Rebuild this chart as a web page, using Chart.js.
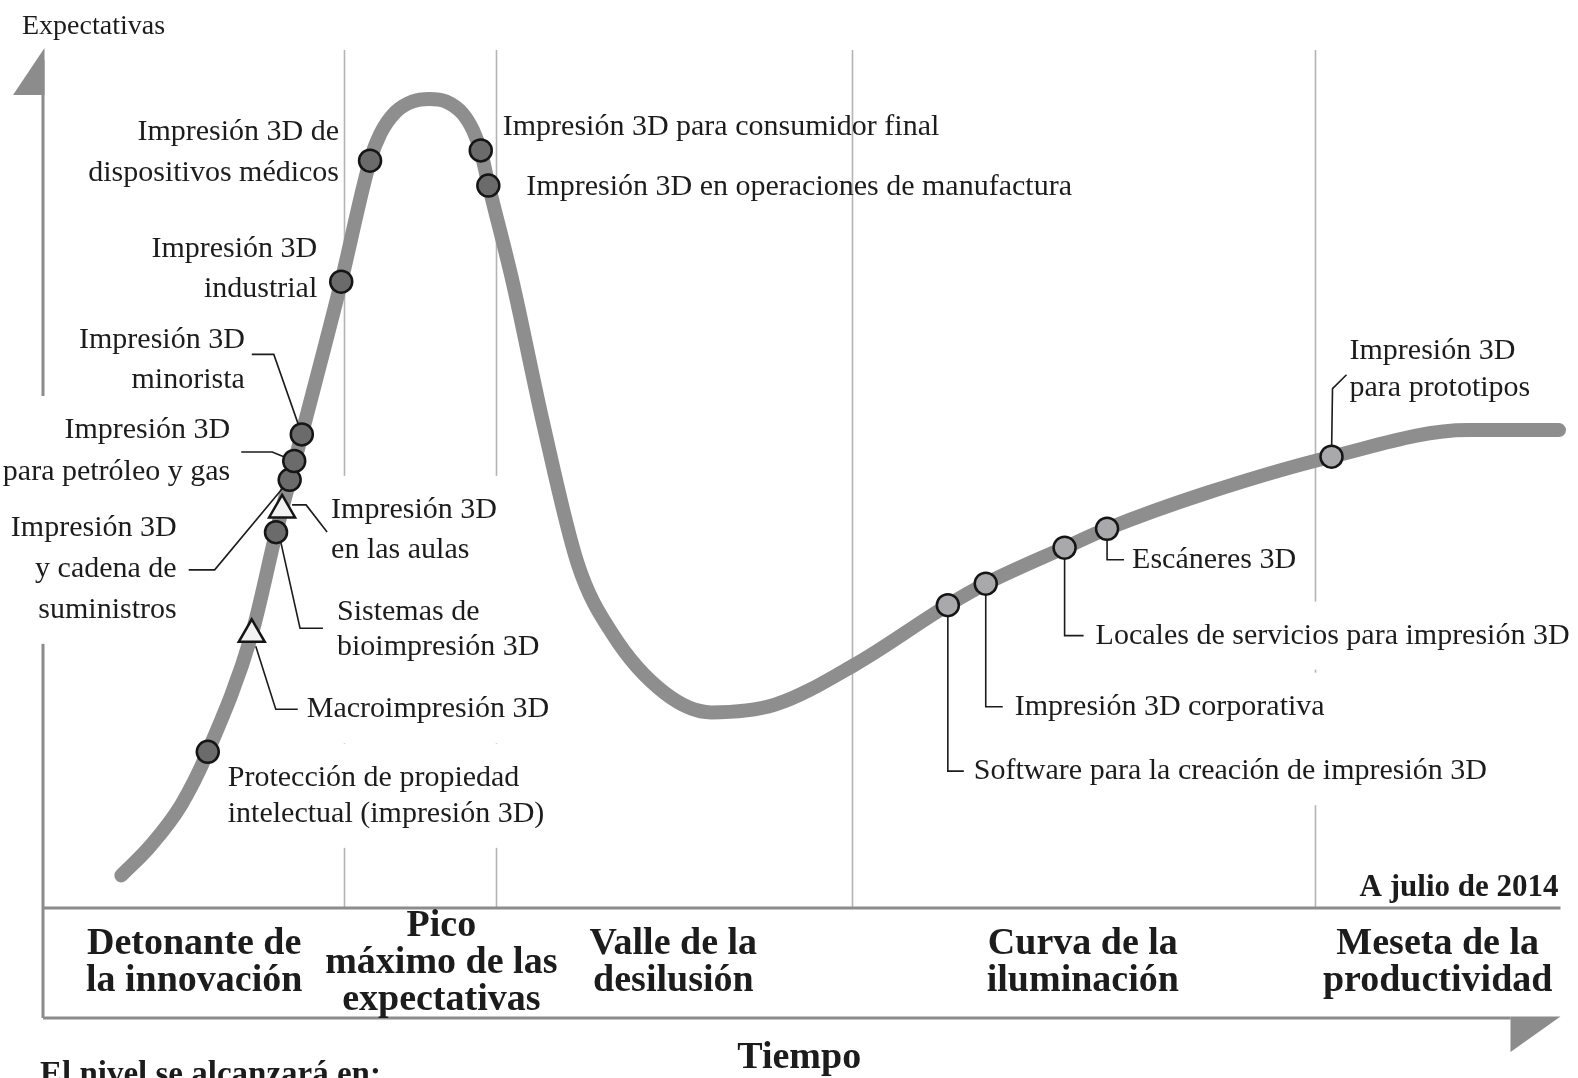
<!DOCTYPE html>
<html>
<head>
<meta charset="utf-8">
<script src="https://cdn.jsdelivr.net/npm/chart.js@4.4.1/dist/chart.umd.min.js"></script>
<style>
  html, body { margin: 0; padding: 0; background: #fff; }
  .wrap { width: 1578px; height: 1078px; position: relative; }
</style>
</head>
<body>
<div class="wrap"><canvas id="hype"></canvas></div>
<script>
// hype curve (time 0-100, expectations 0-100)
const curveX = [5.1, 7.05, 9.04, 10.8, 13.7, 15.3, 17.0, 19.6, 21.5, 22.2, 23.2, 24.3, 25.4, 26.5, 27.6, 28.3, 28.8, 29.3, 30.9, 32.9, 35.2, 37.5, 40.9, 44.0, 48.2, 53.5, 59.6, 62.1, 67.3, 70.1, 76.7, 84.9, 93.9, 99.9]
const curveY = [3.8, 7.3, 12.0, 18.2, 31.9, 43.7, 55.2, 73.0, 87.1, 90.3, 92.8, 94.0, 94.3, 94.0, 92.6, 90.6, 88.2, 84.4, 73.0, 56.6, 40.1, 31.9, 25.1, 22.8, 23.7, 28.4, 35.3, 37.8, 42.0, 44.2, 48.4, 52.6, 55.7, 55.7]

// technologies on the curve
const techNames = [
    "Protección de propiedad\nintelectual (impresión 3D)",
    "Macroimpresión 3D",
    "Sistemas de\nbioimpresión 3D",
    "Impresión 3D\nen las aulas",
    "Impresión 3D\ny cadena de\nsuministros",
    "Impresión 3D\npara petróleo y gas",
    "Impresión 3D\nminorista",
    "Impresión 3D\nindustrial",
    "Impresión 3D de\ndispositivos médicos",
    "Impresión 3D para consumidor final",
    "Impresión 3D en operaciones de manufactura",
    "Software para la creación de impresión 3D",
    "Impresión 3D corporativa",
    "Locales de servicios para impresión 3D",
    "Escáneres 3D",
    "Impresión 3D\npara prototipos"
]
const techX = [10.8, 13.7, 15.3, 15.7, 16.2, 16.5, 17.0, 19.6, 21.5, 28.8, 29.3, 59.6, 62.1, 67.3, 70.1, 84.9]
const techY = [18.2, 31.9, 43.8, 46.4, 49.9, 52.1, 55.2, 73.0, 87.1, 88.3, 84.2, 35.3, 37.8, 42.0, 44.2, 52.6]
// marker kind: dark circle, light circle, triangle
const techGroup = ["dark", "tri", "dark", "tri", "dark", "dark", "dark", "dark", "dark", "dark", "dark",
    "light", "light", "light", "light", "light"]

const phaseNames = [
    "Detonante de\nla innovación",
    "Pico\nmáximo de las\nexpectativas",
    "Valle de la\ndesilusión",
    "Curva de la\niluminación",
    "Meseta de la\nproductividad"
]
const phaseBounds = [19.8, 29.8, 53.3, 83.8]
const phaseCenters = [9.9, 26.2, 41.5, 68.5, 91.9]

// label placement in px, relative to the marker
const labelPos = [
    {dx: 20, dy: 26, gap: 36, align: "left"},
    {dx: 55, dy: 75, gap: 0, align: "left", leader: [[4, 12], [24, 75], [46, 75]]},
    {dx: 61, dy: 80, gap: 35, align: "left", leader: [[5, 11], [24, 96], [47, 96]]},
    {dx: 49, dy: 0, gap: 40, align: "left", leader: [[10, -5], [24, -5], [45, 22]]},
    {dx: -113, dy: 48, gap: 41, align: "right", leader: [[0, 0], [-75, 90], [-101, 90]]},
    {dx: -64, dy: -31, gap: 42, align: "right", leader: [[-53, -9], [-22, -9], [0, 0]]},
    {dx: -57, dy: -94, gap: 40, align: "right", leader: [[-50, -80], [-28, -80], [0, 0]]},
    {dx: -24, dy: -33, gap: 40, align: "right"},
    {dx: -31, dy: -29, gap: 41, align: "right"},
    {dx: 22, dy: -23, gap: 0, align: "left", nobg: true},
    {dx: 38, dy: 2, gap: 0, align: "left", nobg: true},
    {dx: 26, dy: 166, gap: 0, align: "left", leader: [[0, 0], [0, 166], [16, 166]]},
    {dx: 29, dy: 123, gap: 0, align: "left", leader: [[0, 0], [0, 123], [17, 123]]},
    {dx: 31, dy: 88, gap: 0, align: "left", leader: [[0, 0], [0, 88], [19, 88]]},
    {dx: 25, dy: 31, gap: 0, align: "left", leader: [[0, 0], [0, 31], [17, 31]]},
    {dx: 18, dy: -106, gap: 37, align: "left", leader: [[0, 0], [1, -68], [15, -82]]}
]

const SERIF = '"Liberation Serif", "Times New Roman", serif'
const INK = "#1c1c1c"
const AXIS = "#8c8c8c"

const pick = (g) => techX.map((x, i) => ({x: x, y: techY[i], g: techGroup[i]})).filter(p => p.g === g)

const markerPx = (chart, i) => ({
    x: chart.scales.x.getPixelForValue(techX[i]),
    y: chart.scales.y.getPixelForValue(techY[i])
})

const hypeDecor = {
    id: "hypeDecor",
    beforeDraw(chart) {
        const ctx = chart.ctx
        ctx.save()
        ctx.fillStyle = "#fff"
        ctx.fillRect(0, 0, chart.width, chart.height)
        ctx.restore()
    },
    beforeDatasetsDraw(chart) {
        const ctx = chart.ctx
        const {left, right, top, bottom} = chart.chartArea
        const xs = chart.scales.x
        const bandBottom = bottom + 110
        ctx.save()

        // phase dividers
        ctx.strokeStyle = "#b4b4b4"
        ctx.lineWidth = 1.6
        phaseBounds.forEach(b => {
            const px = Math.round(xs.getPixelForValue(b)) + 0.5
            ctx.beginPath()
            ctx.moveTo(px, top)
            ctx.lineTo(px, bottom)
            ctx.stroke()
        })

        // axes + band
        ctx.strokeStyle = AXIS
        ctx.fillStyle = AXIS
        ctx.lineWidth = 3
        ctx.beginPath()
        ctx.moveTo(left - 1, top + 10)
        ctx.lineTo(left - 1, bandBottom)
        ctx.moveTo(left - 1, bottom)
        ctx.lineTo(right, bottom)
        ctx.moveTo(left - 1, bandBottom)
        ctx.lineTo(right - 50, bandBottom)
        ctx.stroke()
        ctx.beginPath()
        ctx.moveTo(left + 0.5, top - 2)
        ctx.lineTo(left + 0.5, top + 45)
        ctx.lineTo(left - 31, top + 45)
        ctx.closePath()
        ctx.fill()
        ctx.beginPath()
        ctx.moveTo(right - 50, bandBottom - 1.5)
        ctx.lineTo(right, bandBottom - 1.5)
        ctx.lineTo(right - 50, bandBottom + 34)
        ctx.closePath()
        ctx.fill()

        // technology labels: white boxes first, then the text
        ctx.font = "30px " + SERIF
        ctx.textBaseline = "middle"
        const boxes = techNames.map((name, i) => {
            const p = markerPx(chart, i)
            const lp = labelPos[i]
            const lines = name.split("\n")
            const w = Math.max(...lines.map(l => ctx.measureText(l).width))
            return {lines, lp, tx: p.x + lp.dx, ty: p.y + lp.dy, w}
        })
        ctx.fillStyle = "#fff"
        boxes.forEach(b => {
            if (b.lp.nobg) return
            const bx = b.lp.align === "right" ? b.tx - b.w - 4 : b.tx - 4
            ctx.fillRect(bx, b.ty - 34, b.w + 8, (b.lines.length - 1) * b.lp.gap + 68)
        })
        ctx.fillStyle = INK
        boxes.forEach(b => {
            ctx.textAlign = b.lp.align
            b.lines.forEach((l, k) => ctx.fillText(l, b.tx, b.ty + k * b.lp.gap))
        })

        // phase names in the band
        ctx.font = "bold 38px " + SERIF
        ctx.textAlign = "center"
        const mid = (bottom + bandBottom) / 2
        phaseNames.forEach((name, i) => {
            const lines = name.split("\n")
            const cx = xs.getPixelForValue(phaseCenters[i])
            const y0 = mid - (lines.length - 1) * 37 / 2
            lines.forEach((l, k) => ctx.fillText(l, cx, y0 + k * 37))
        })

        // axis titles and notes
        ctx.font = "28px " + SERIF
        ctx.textAlign = "left"
        ctx.textBaseline = "alphabetic"
        ctx.fillText("Expectativas", 22, 34)
        ctx.font = "bold 31px " + SERIF
        ctx.textAlign = "right"
        ctx.fillText("A julio de 2014", right - 2, bottom - 12)
        ctx.font = "bold 38px " + SERIF
        ctx.textAlign = "center"
        ctx.textBaseline = "middle"
        ctx.fillText("Tiempo", xs.getPixelForValue(49.8), bandBottom + 40)
        ctx.font = "bold 33px " + SERIF
        ctx.textAlign = "left"
        ctx.textBaseline = "alphabetic"
        ctx.fillText("El nivel se alcanzará en:", 40, bandBottom + 66)
        ctx.restore()
    },
    afterDatasetDraw(chart, args) {
        if (args.index !== 0) return
        const ctx = chart.ctx
        ctx.save()
        ctx.strokeStyle = INK
        ctx.lineWidth = 1.6
        labelPos.forEach((lp, i) => {
            if (!lp.leader) return
            const p = markerPx(chart, i)
            ctx.beginPath()
            lp.leader.forEach(([dx, dy], k) => {
                if (k === 0) ctx.moveTo(p.x + dx, p.y + dy)
                else ctx.lineTo(p.x + dx, p.y + dy)
            })
            ctx.stroke()
        })
        ctx.restore()
    }
}

const dotSet = (group, fill, style, radius) => ({
    data: pick(group),
    showLine: false,
    order: 1,
    pointStyle: style,
    pointRadius: radius,
    pointHoverRadius: radius,
    pointBackgroundColor: fill,
    pointBorderColor: "#151515",
    pointBorderWidth: 2.5,
    clip: false
})

new Chart(document.getElementById("hype"), {
    type: "line",
    data: {
        datasets: [
            {
                data: curveX.map((x, i) => ({x: x, y: curveY[i]})),
                order: 2,
                borderColor: "#8e8e8e",
                borderWidth: 14,
                borderCapStyle: "round",
                borderJoinStyle: "round",
                cubicInterpolationMode: "monotone",
                pointRadius: 0,
                pointHoverRadius: 0,
                clip: false
            },
            dotSet("dark", "#6b6b6b", "circle", 11),
            dotSet("light", "#a9a9ab", "circle", 11),
            dotSet("tri", "#f2f2f2", "triangle", 15)
        ]
    },
    options: {
        responsive: true,
        maintainAspectRatio: false,
        animation: false,
        events: [],
        layout: {padding: {left: 44, right: 16, top: 50, bottom: 170}},
        scales: {
            x: {type: "linear", min: 0, max: 100, display: false},
            y: {type: "linear", min: 0, max: 100, display: false}
        },
        plugins: {
            legend: {display: false},
            tooltip: {enabled: false}
        }
    },
    plugins: [hypeDecor]
})
</script>
</body>
</html>
